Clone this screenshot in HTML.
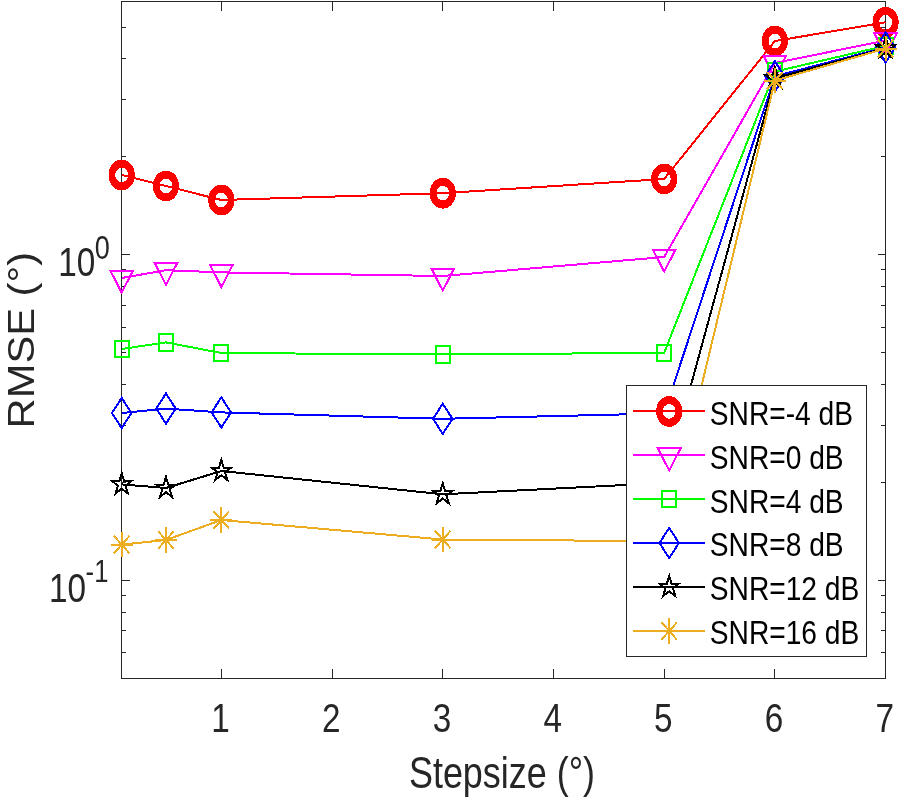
<!DOCTYPE html>
<html lang="en"><head><meta charset="utf-8"><title>RMSE vs Stepsize</title>
<style>html,body{margin:0;padding:0;background:#fff}body{width:900px;height:800px;overflow:hidden}svg{display:block}text{font-family:"Liberation Sans",sans-serif;fill:#262626}</style></head><body>
<svg width="900" height="800" viewBox="0 0 900 800">
<rect width="900" height="800" fill="#fff"/>
<g stroke="#262626" stroke-width="1" fill="none" shape-rendering="crispEdges">
<rect x="121.5" y="1.5" width="764" height="677"/>
<path d="M221.5 678.5v-9.5M221.5 1.5v9.5M332.5 678.5v-9.5M332.5 1.5v9.5M442.5 678.5v-9.5M442.5 1.5v9.5M553.5 678.5v-9.5M553.5 1.5v9.5M664.5 678.5v-9.5M664.5 1.5v9.5M774.5 678.5v-9.5M774.5 1.5v9.5M885.5 678.5v-9.5M885.5 1.5v9.5M121.5 652.5h4.5M885.5 652.5h-4.5M121.5 630.5h4.5M885.5 630.5h-4.5M121.5 612.5h4.5M885.5 612.5h-4.5M121.5 595.5h4.5M885.5 595.5h-4.5M121.5 580.5h8.5M885.5 580.5h-7.5M121.5 482.5h4.5M885.5 482.5h-4.5M121.5 425.5h4.5M885.5 425.5h-4.5M121.5 384.5h4.5M885.5 384.5h-4.5M121.5 352.5h4.5M885.5 352.5h-4.5M121.5 327.5h4.5M885.5 327.5h-4.5M121.5 305.5h4.5M885.5 305.5h-4.5M121.5 286.5h4.5M885.5 286.5h-4.5M121.5 269.5h4.5M885.5 269.5h-4.5M121.5 254.5h8.5M885.5 254.5h-7.5M121.5 156.5h4.5M885.5 156.5h-4.5M121.5 99.5h4.5M885.5 99.5h-4.5M121.5 58.5h4.5M885.5 58.5h-4.5M121.5 27.5h4.5M885.5 27.5h-4.5"/>
</g>
<g shape-rendering="crispEdges">
<polyline points="121.7,175 165.98,186 221.34,200 442.76,193.2 664.18,179 774.89,41 885.6,22.3" fill="none" stroke="#ff0000" stroke-width="2" stroke-linejoin="round" shape-rendering="crispEdges"/>
<path d="M108.6 175a13.1 15.4 0 1 0 26.2 0a13.1 15.4 0 1 0 -26.2 0zM115.25 175a6.45 7.3 0 1 0 12.9 0a6.45 7.3 0 1 0 -12.9 0z" fill="#ff0000" fill-rule="evenodd"/>
<path d="M152.88 186a13.1 15.4 0 1 0 26.2 0a13.1 15.4 0 1 0 -26.2 0zM159.53 186a6.45 7.3 0 1 0 12.9 0a6.45 7.3 0 1 0 -12.9 0z" fill="#ff0000" fill-rule="evenodd"/>
<path d="M208.24 200a13.1 15.4 0 1 0 26.2 0a13.1 15.4 0 1 0 -26.2 0zM214.89 200a6.45 7.3 0 1 0 12.9 0a6.45 7.3 0 1 0 -12.9 0z" fill="#ff0000" fill-rule="evenodd"/>
<path d="M429.66 193.2a13.1 15.4 0 1 0 26.2 0a13.1 15.4 0 1 0 -26.2 0zM436.31 193.2a6.45 7.3 0 1 0 12.9 0a6.45 7.3 0 1 0 -12.9 0z" fill="#ff0000" fill-rule="evenodd"/>
<path d="M651.08 179a13.1 15.4 0 1 0 26.2 0a13.1 15.4 0 1 0 -26.2 0zM657.73 179a6.45 7.3 0 1 0 12.9 0a6.45 7.3 0 1 0 -12.9 0z" fill="#ff0000" fill-rule="evenodd"/>
<path d="M761.79 41a13.1 15.4 0 1 0 26.2 0a13.1 15.4 0 1 0 -26.2 0zM768.44 41a6.45 7.3 0 1 0 12.9 0a6.45 7.3 0 1 0 -12.9 0z" fill="#ff0000" fill-rule="evenodd"/>
<path d="M872.5 22.3a13.1 15.4 0 1 0 26.2 0a13.1 15.4 0 1 0 -26.2 0zM879.15 22.3a6.45 7.3 0 1 0 12.9 0a6.45 7.3 0 1 0 -12.9 0z" fill="#ff0000" fill-rule="evenodd"/>
<polyline points="121.7,278 165.98,270.2 221.34,272.4 442.76,276 664.18,257 774.89,63 885.6,40.5" fill="none" stroke="#ff00ff" stroke-width="2" stroke-linejoin="round" shape-rendering="crispEdges"/>
<path d="M110.3 270.5H133.1L121.7 292.6Z" fill="none" stroke="#ff00ff" stroke-width="2"/>
<path d="M154.58 262.7H177.38L165.98 284.8Z" fill="none" stroke="#ff00ff" stroke-width="2"/>
<path d="M209.94 264.9H232.74L221.34 287Z" fill="none" stroke="#ff00ff" stroke-width="2"/>
<path d="M431.36 268.5H454.16L442.76 290.6Z" fill="none" stroke="#ff00ff" stroke-width="2"/>
<path d="M652.78 249.5H675.58L664.18 271.6Z" fill="none" stroke="#ff00ff" stroke-width="2"/>
<path d="M763.49 55.5H786.29L774.89 77.6Z" fill="none" stroke="#ff00ff" stroke-width="2"/>
<path d="M874.2 33H897L885.6 55.1Z" fill="none" stroke="#ff00ff" stroke-width="2"/>
<polyline points="121.7,349 165.98,342.4 221.34,353 442.76,354.5 664.18,352.8 774.89,71.6 885.6,45.8" fill="none" stroke="#00ff00" stroke-width="2" stroke-linejoin="round" shape-rendering="crispEdges"/>
<rect x="114.7" y="340.7" width="14" height="16.6" fill="none" stroke="#00ff00" stroke-width="2"/>
<rect x="158.98" y="334.1" width="14" height="16.6" fill="none" stroke="#00ff00" stroke-width="2"/>
<rect x="214.34" y="344.7" width="14" height="16.6" fill="none" stroke="#00ff00" stroke-width="2"/>
<rect x="435.76" y="346.2" width="14" height="16.6" fill="none" stroke="#00ff00" stroke-width="2"/>
<rect x="657.18" y="344.5" width="14" height="16.6" fill="none" stroke="#00ff00" stroke-width="2"/>
<rect x="767.89" y="63.3" width="14" height="16.6" fill="none" stroke="#00ff00" stroke-width="2"/>
<rect x="878.6" y="37.5" width="14" height="16.6" fill="none" stroke="#00ff00" stroke-width="2"/>
<polyline points="121.7,413 165.98,408.6 221.34,412.4 442.76,418.8 664.18,413.4 774.89,76.3 885.6,47.4" fill="none" stroke="#0000ff" stroke-width="2" stroke-linejoin="round" shape-rendering="crispEdges"/>
<path d="M121.7 397.9L131.4 413L121.7 428.1L112 413Z" fill="none" stroke="#0000ff" stroke-width="2"/>
<path d="M165.98 393.5L175.68 408.6L165.98 423.7L156.28 408.6Z" fill="none" stroke="#0000ff" stroke-width="2"/>
<path d="M221.34 397.3L231.04 412.4L221.34 427.5L211.64 412.4Z" fill="none" stroke="#0000ff" stroke-width="2"/>
<path d="M442.76 403.7L452.46 418.8L442.76 433.9L433.06 418.8Z" fill="none" stroke="#0000ff" stroke-width="2"/>
<path d="M664.18 398.3L673.88 413.4L664.18 428.5L654.48 413.4Z" fill="none" stroke="#0000ff" stroke-width="2"/>
<path d="M774.89 61.2L784.59 76.3L774.89 91.4L765.19 76.3Z" fill="none" stroke="#0000ff" stroke-width="2"/>
<path d="M885.6 32.3L895.3 47.4L885.6 62.5L875.9 47.4Z" fill="none" stroke="#0000ff" stroke-width="2"/>
<polyline points="121.7,484.4 165.98,488 221.34,471 442.76,494.3 664.18,483 774.89,78.2 885.6,48.2" fill="none" stroke="#000000" stroke-width="2" stroke-linejoin="round" shape-rendering="crispEdges"/>
<path d="M121.7 473.3L124.01 480.97L131.5 480.97L125.44 485.71L127.75 493.38L121.7 488.64L115.65 493.38L117.96 485.71L111.9 480.97L119.39 480.97Z" fill="none" stroke="#000000" stroke-width="2"/>
<path d="M165.98 476.9L168.3 484.57L175.78 484.57L169.73 489.31L172.04 496.98L165.98 492.24L159.93 496.98L162.24 489.31L156.19 484.57L163.67 484.57Z" fill="none" stroke="#000000" stroke-width="2"/>
<path d="M221.34 459.9L223.65 467.57L231.14 467.57L225.08 472.31L227.39 479.98L221.34 475.24L215.28 479.98L217.6 472.31L211.54 467.57L219.03 467.57Z" fill="none" stroke="#000000" stroke-width="2"/>
<path d="M442.76 483.2L445.07 490.87L452.56 490.87L446.5 495.61L448.81 503.28L442.76 498.54L436.71 503.28L439.02 495.61L432.96 490.87L440.45 490.87Z" fill="none" stroke="#000000" stroke-width="2"/>
<path d="M664.18 471.9L666.49 479.57L673.98 479.57L667.92 484.31L670.23 491.98L664.18 487.24L658.13 491.98L660.44 484.31L654.38 479.57L661.87 479.57Z" fill="none" stroke="#000000" stroke-width="2"/>
<path d="M774.89 67.1L777.2 74.77L784.69 74.77L778.63 79.51L780.94 87.18L774.89 82.44L768.84 87.18L771.15 79.51L765.09 74.77L772.58 74.77Z" fill="none" stroke="#000000" stroke-width="2"/>
<path d="M885.6 37.1L887.91 44.77L895.4 44.77L889.34 49.51L891.65 57.18L885.6 52.44L879.55 57.18L881.86 49.51L875.8 44.77L883.29 44.77Z" fill="none" stroke="#000000" stroke-width="2"/>
<polyline points="121.7,544.6 165.98,540 221.34,520 442.76,539.5 664.18,541.2 774.89,80.6 885.6,48.5" fill="none" stroke="#ecad20" stroke-width="2" stroke-linejoin="round" shape-rendering="crispEdges"/>
<path d="M110.8 544.6h21.8M121.7 532v25.2M113.9 535.9l15.6 17.4M113.9 553.3l15.6 -17.4" fill="none" stroke="#ecad20" stroke-width="2"/>
<path d="M155.08 540h21.8M165.98 527.4v25.2M158.18 531.3l15.6 17.4M158.18 548.7l15.6 -17.4" fill="none" stroke="#ecad20" stroke-width="2"/>
<path d="M210.44 520h21.8M221.34 507.4v25.2M213.54 511.3l15.6 17.4M213.54 528.7l15.6 -17.4" fill="none" stroke="#ecad20" stroke-width="2"/>
<path d="M431.86 539.5h21.8M442.76 526.9v25.2M434.96 530.8l15.6 17.4M434.96 548.2l15.6 -17.4" fill="none" stroke="#ecad20" stroke-width="2"/>
<path d="M653.28 541.2h21.8M664.18 528.6v25.2M656.38 532.5l15.6 17.4M656.38 549.9l15.6 -17.4" fill="none" stroke="#ecad20" stroke-width="2"/>
<path d="M763.99 80.6h21.8M774.89 68v25.2M767.09 71.9l15.6 17.4M767.09 89.3l15.6 -17.4" fill="none" stroke="#ecad20" stroke-width="2"/>
<path d="M874.7 48.5h21.8M885.6 35.9v25.2M877.8 39.8l15.6 17.4M877.8 57.2l15.6 -17.4" fill="none" stroke="#ecad20" stroke-width="2"/>
</g>
<text transform="translate(220.54 732.2) scale(0.827 1)" font-size="40.3" text-anchor="middle">1</text>
<text transform="translate(331.25 732.2) scale(0.827 1)" font-size="40.3" text-anchor="middle">2</text>
<text transform="translate(441.96 732.2) scale(0.827 1)" font-size="40.3" text-anchor="middle">3</text>
<text transform="translate(552.67 732.2) scale(0.827 1)" font-size="40.3" text-anchor="middle">4</text>
<text transform="translate(663.38 732.2) scale(0.827 1)" font-size="40.3" text-anchor="middle">5</text>
<text transform="translate(774.09 732.2) scale(0.827 1)" font-size="40.3" text-anchor="middle">6</text>
<text transform="translate(884.8 732.2) scale(0.827 1)" font-size="40.3" text-anchor="middle">7</text>
<text transform="translate(95.4 275.8) scale(0.827 1)" font-size="40.3" text-anchor="end">10</text>
<text transform="translate(94.7 258.5) scale(0.827 1)" font-size="32.7" text-anchor="start">0</text>
<text transform="translate(86 601.7) scale(0.827 1)" font-size="40.3" text-anchor="end">10</text>
<text transform="translate(85.6 582.3) scale(0.827 1)" font-size="31" text-anchor="start">-1</text>
<text transform="translate(502 788) scale(0.8026 1)" font-size="44.8" text-anchor="middle">Stepsize (°)</text>
<text transform="translate(33.6 340.2) rotate(-90) scale(1.106 1)" font-size="37.7" text-anchor="middle">RMSE (°)</text>
<g shape-rendering="crispEdges">
<rect x="626.5" y="385.5" width="240" height="271" fill="#fff" stroke="#262626" stroke-width="1"/>
<path d="M633 411H705" stroke="#ff0000" stroke-width="2" fill="none"/>
<path d="M656.1 411.4a13.1 15.4 0 1 0 26.2 0a13.1 15.4 0 1 0 -26.2 0zM662.75 411.4a6.45 7.3 0 1 0 12.9 0a6.45 7.3 0 1 0 -12.9 0z" fill="#ff0000" fill-rule="evenodd"/>
<path d="M633 455H705" stroke="#ff00ff" stroke-width="2" fill="none"/>
<path d="M657.8 448.3H680.6L669.2 470.4Z" fill="none" stroke="#ff00ff" stroke-width="2"/>
<path d="M633 499H705" stroke="#00ff00" stroke-width="2" fill="none"/>
<rect x="662.2" y="490.7" width="14" height="16.6" fill="none" stroke="#00ff00" stroke-width="2"/>
<path d="M633 543H705" stroke="#0000ff" stroke-width="2" fill="none"/>
<path d="M669.2 527.9L678.9 543L669.2 558.1L659.5 543Z" fill="none" stroke="#0000ff" stroke-width="2"/>
<path d="M633 587H705" stroke="#000000" stroke-width="2" fill="none"/>
<path d="M669.2 575.9L671.51 583.57L679 583.57L672.94 588.31L675.25 595.98L669.2 591.24L663.15 595.98L665.46 588.31L659.4 583.57L666.89 583.57Z" fill="none" stroke="#000000" stroke-width="2"/>
<path d="M633 631H705" stroke="#ecad20" stroke-width="2" fill="none"/>
<path d="M658.3 631h21.8M669.2 618.4v25.2M661.4 622.3l15.6 17.4M661.4 639.7l15.6 -17.4" fill="none" stroke="#ecad20" stroke-width="2"/>
</g>
<text transform="translate(709.8 425.2) scale(0.831 1)" font-size="33.9" style="fill:#000">SNR=-4 dB</text>
<text transform="translate(709.8 468.9) scale(0.831 1)" font-size="33.9" style="fill:#000">SNR=0 dB</text>
<text transform="translate(709.8 512.9) scale(0.831 1)" font-size="33.9" style="fill:#000">SNR=4 dB</text>
<text transform="translate(709.8 556.2) scale(0.831 1)" font-size="33.9" style="fill:#000">SNR=8 dB</text>
<text transform="translate(709.8 600.2) scale(0.831 1)" font-size="33.9" style="fill:#000">SNR=12 dB</text>
<text transform="translate(709.8 644.2) scale(0.831 1)" font-size="33.9" style="fill:#000">SNR=16 dB</text>
</svg></body></html>
